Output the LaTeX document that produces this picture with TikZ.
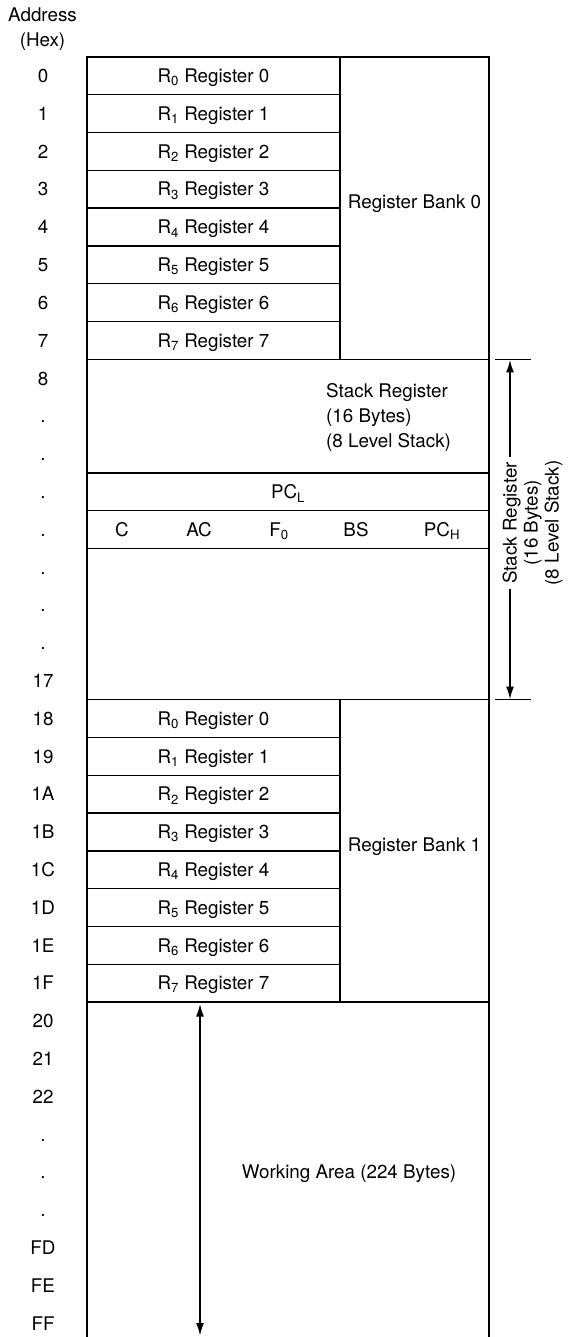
\documentclass[tikz,border=0pt]{standalone}
\usepackage{fontspec}
\setmainfont{TeX Gyre Heros}
\usetikzlibrary{arrows.meta}
\begin{document}
\begin{tikzpicture}[x=1pt,y=-1pt,
  every node/.style={font=\fontsize{18.8}{21}\selectfont, inner sep=0pt, text height=13.4pt, text depth=0pt},
  cell/.style={draw, line width=1.4pt},
  regcell/.style={cell, minimum width=253pt, minimum height=37.8pt},
  widecell/.style={cell, minimum width=402pt, minimum height=37.8pt},
  boxline/.style={line width=1.4pt},
  dimline/.style={line width=2.1pt},
  uptip/.style={-{Latex[length=13pt,width=8pt]}},
  bothtip/.style={{Latex[length=13pt,width=8pt]}-{Latex[length=13pt,width=8pt]}}
]
\useasboundingbox (0,0) rectangle (574,1337);

% header
\node (addrhead) at (42.5,15) {Address};
\node (hexhead) at (42.5,40) {(Hex)};

% Register bank 0
\foreach \i in {0,...,7}{
  \pgfmathsetmacro\yc{57+37.8*(\i+0.5)}
  \node[regcell] (ra\i) at (213.5,\yc) {R\textsubscript{\i} Register \i};
  \node (la\i) at (43,\yc) {\i};
}
\node[cell, minimum width=149pt, minimum height=302.4pt] (bank0) at (414.5,208.2) {};
\node (bank0t) at (414.5,202) {Register Bank 0};

% Stack area
\node[cell, minimum width=402pt, minimum height=340.2pt] (stack) at (288,529.5) {};
\node[anchor=west] (st1) at (326,390.7) {Stack Register};
\node[anchor=west] (st2) at (326,415.7) {(16 Bytes)};
\node[anchor=west] (st3) at (326,441) {(8 Level Stack)};
\node[widecell] (pcl) at (288,491.7) {PC\textsubscript{L}};
\node[widecell] (flags) at (288,529.5) {};
\node (fc) at (122,529.5) {C};
\node (fac) at (199,529.5) {AC};
\node (ff0) at (279,529.5) {F\textsubscript{0}};
\node (fbs) at (356,529.5) {BS};
\node (fpch) at (442,529.5) {PC\textsubscript{H}};
\foreach \lab [count=\i from 0] in {8,.,.,.,.,.,.,.,17}{
  \pgfmathsetmacro\yc{359.4+37.8*(\i+0.5)}
  \node (ls\i) at (43,\yc) {\lab};
}

% Register bank 1
\foreach \lab [count=\i from 0] in {18,19,1A,1B,1C,1D,1E,1F}{
  \pgfmathsetmacro\yc{699.6+37.8*(\i+0.5)}
  \node[regcell] (rb\i) at (213.5,\yc) {R\textsubscript{\i} Register \i};
  \node (lb\i) at (43,\yc) {\lab};
}
\node[cell, minimum width=149pt, minimum height=302.4pt] (bank1) at (414.5,850.8) {};
\node (bank1t) at (414.5,845) {Register Bank 1};

% Working area
\coordinate (wtl) at (87,1002);
\coordinate (wbl) at (87,1337);
\coordinate (wtr) at (489,1002);
\coordinate (wbr) at (489,1337);
\draw[boxline] (wtl) -- (wbl);
\draw[boxline] (wtr) -- (wbr);
\foreach \lab [count=\i from 0] in {20,21,22,.,.,.,FD,FE,FF}{
  \pgfmathsetmacro\yc{1002+37.8*(\i+0.5)}
  \node (lw\i) at (43,\yc) {\lab};
}
\node (worktext) at (349,1172) {Working Area (224 Bytes)};
\coordinate (wat) at (200,1003.5);
\coordinate (wab) at (200,1336);
\draw[dimline, bothtip] (wat) -- (wab);

% Stack register dimension on the right
\coordinate (tkl) at (495,359.4);
\coordinate (tkr) at (531,359.4);
\coordinate (bkl) at (495,699.6);
\coordinate (bkr) at (531,699.6);
\draw[boxline] (tkl) -- (tkr);
\draw[boxline] (bkl) -- (bkr);
\coordinate (st) at (510,359.4);
\coordinate (sb) at (510,699.6);
\node[rotate=90, inner xsep=5pt] (sr1) at (510,523) {Stack Register};
\node[rotate=90] (sr2) at (531,523) {(16 Bytes)};
\node[rotate=90] (sr3) at (552,523) {(8 Level Stack)};
\draw[dimline, uptip] (sr1.east) -- (st);
\draw[dimline, uptip] (sr1.west) -- (sb);
\end{tikzpicture}
\end{document}
